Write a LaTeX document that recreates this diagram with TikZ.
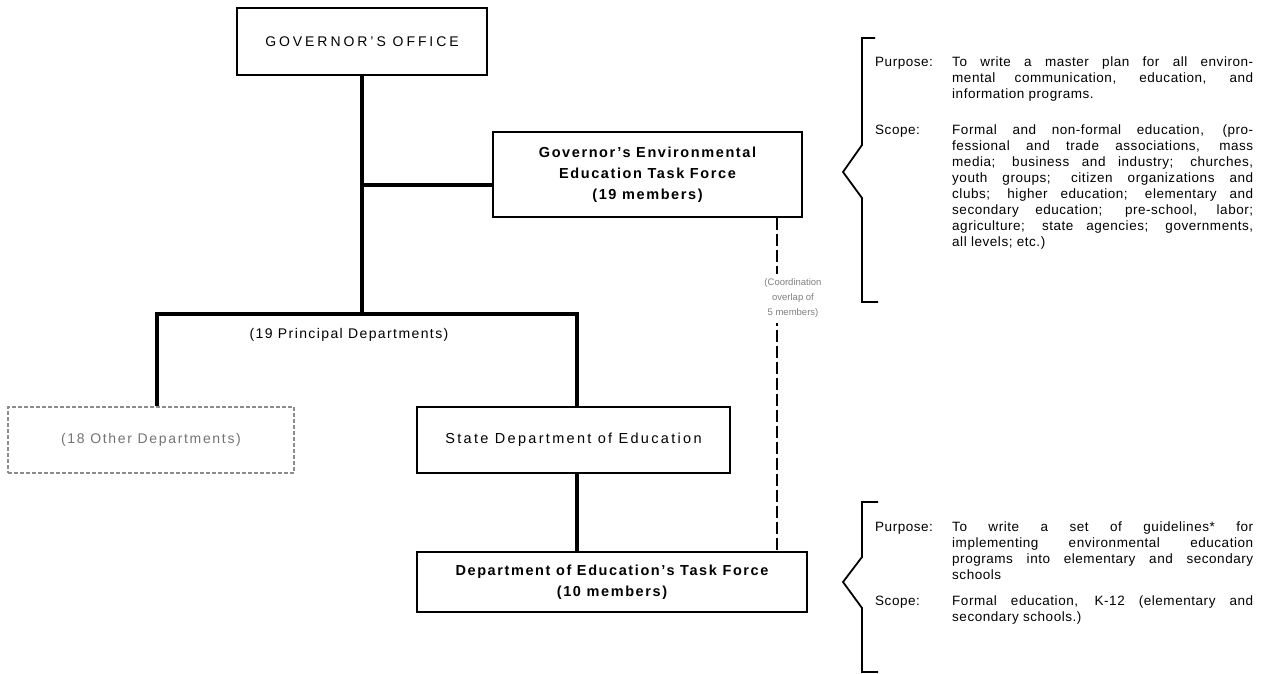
\documentclass[tikz,border=0pt]{standalone}
\usepackage{fontspec}
\setmainfont{Liberation Sans}
\tolerance=10000
\hbadness=10000
\tikzset{
  orgbox/.style={draw, line width=1.2pt, inner sep=0pt, align=center,
    font=\fontsize{14}{21}\selectfont\addfontfeature{LetterSpace=12}},
  headbox/.style={orgbox, font=\fontsize{14.5}{21}\selectfont\bfseries\addfontfeature{LetterSpace=11}},
  fadedbox/.style={orgbox, draw=black!45, text=black!55, dash pattern=on 4pt off 2pt},
  link/.style={line width=3.8pt},
  overlap/.style={line width=2.8pt, dash pattern=on 12pt off 4pt},
  bracket/.style={line width=1.8pt, line join=miter},
  note/.style={inner sep=0pt, font=\fontsize{13.5}{16}\selectfont\addfontfeature{LetterSpace=4}},
  overlaptext/.style={fill=white, inner xsep=2pt, inner ysep=5pt, align=center, text=black!50,
    font=\fontsize{9.5}{15}\selectfont}
}
\begin{document}
\begin{tikzpicture}[x=1pt,y=-1pt]
                \useasboundingbox (0,0) rectangle (1267,674);
                \node[orgbox, minimum width=250pt, minimum height=67pt, font=\fontsize{14}{21}\selectfont\addfontfeature{LetterSpace=21}] (gov) at (362,41.5) {GOVERNOR'S OFFICE};
                \node[headbox, minimum width=309pt, minimum height=85pt] (gtf) at (647.5,174.5) {Governor's Environmental\\Education Task Force\\(19 members)};
                \node[] (prin) at (349,335) {\fontsize{14}{21}\selectfont\addfontfeature{LetterSpace=10}(19 Principal Departments)};
                \node[fadedbox, minimum width=286pt, minimum height=66pt] (oth) at (151,440) {(18 Other Departments)};
                \node[orgbox, minimum width=313pt, minimum height=66pt, font=\fontsize{14.5}{21}\selectfont\addfontfeature{LetterSpace=16}] (sde) at (573.5,440) {State Department of Education};
                \node[headbox, minimum width=390pt, minimum height=60pt] (dtf) at (612,582) {Department of Education's Task Force\\(10 members)};

                \coordinate (jl) at (157,314);
                \coordinate (jr) at (577,314);
                \coordinate (gbr) at (362,185);
                \coordinate (ovl) at (777,0);
                \draw[link] (gov.south) -- (gov.south |- jl);
                \draw[link] (gbr) -- (gbr -| gtf.west);
                \draw[link] (jl |- oth.north) -- (jl) -- (jr) -- (jr |- sde.north);
                \draw[link] (jr |- sde.south) -- (jr |- dtf.north);
                \draw[overlap] (gtf.south -| ovl) -- node[overlaptext, pos=0.242, xshift=16pt] (coord) {(Coordination\\overlap of\\5 members)} (dtf.north -| ovl);

                \draw[bracket] (875,38) -- (862,38) -- (862,145) -- (843,172) -- (862,198) -- (862,302) -- (878,302);
                \node[note, anchor=base west] (pur1) at (875,66.5) {Purpose:};
                \node[note, anchor=base west] (pur1txt) at (952,66.5) {\parbox[t]{301pt}{To write a master plan for all environ-\linebreak mental communication, education, and\linebreak information programs.}};
                \node[note, anchor=base west] (sco1) at (875,134.5) {Scope:};
                \node[note, anchor=base west] (sco1txt) at (952,134.5) {\parbox[t]{301pt}{Formal and non-formal education, (pro-\linebreak fessional and trade associations, mass\linebreak media; business and industry; churches,\linebreak youth groups; citizen organizations and\linebreak clubs; higher education; elementary and\linebreak secondary education; pre-school, labor;\linebreak agriculture; state agencies; governments,\linebreak all levels; etc.)}};

                \draw[bracket] (878,502) -- (862,502) -- (862,557) -- (843,582) -- (862,608) -- (862,672) -- (878,672);
                \node[note, anchor=base west] (pur2) at (875,531) {Purpose:};
                \node[note, anchor=base west] (pur2txt) at (952,531) {\parbox[t]{301pt}{To write a set of guidelines* for\linebreak implementing environmental education\linebreak programs into elementary and secondary\linebreak schools}};
                \node[note, anchor=base west] (sco2) at (875,605) {Scope:};
                \node[note, anchor=base west] (sco2txt) at (952,605) {\parbox[t]{301pt}{Formal education, K-12 (elementary and\linebreak secondary schools.)}};
            \end{tikzpicture}
\end{document}
